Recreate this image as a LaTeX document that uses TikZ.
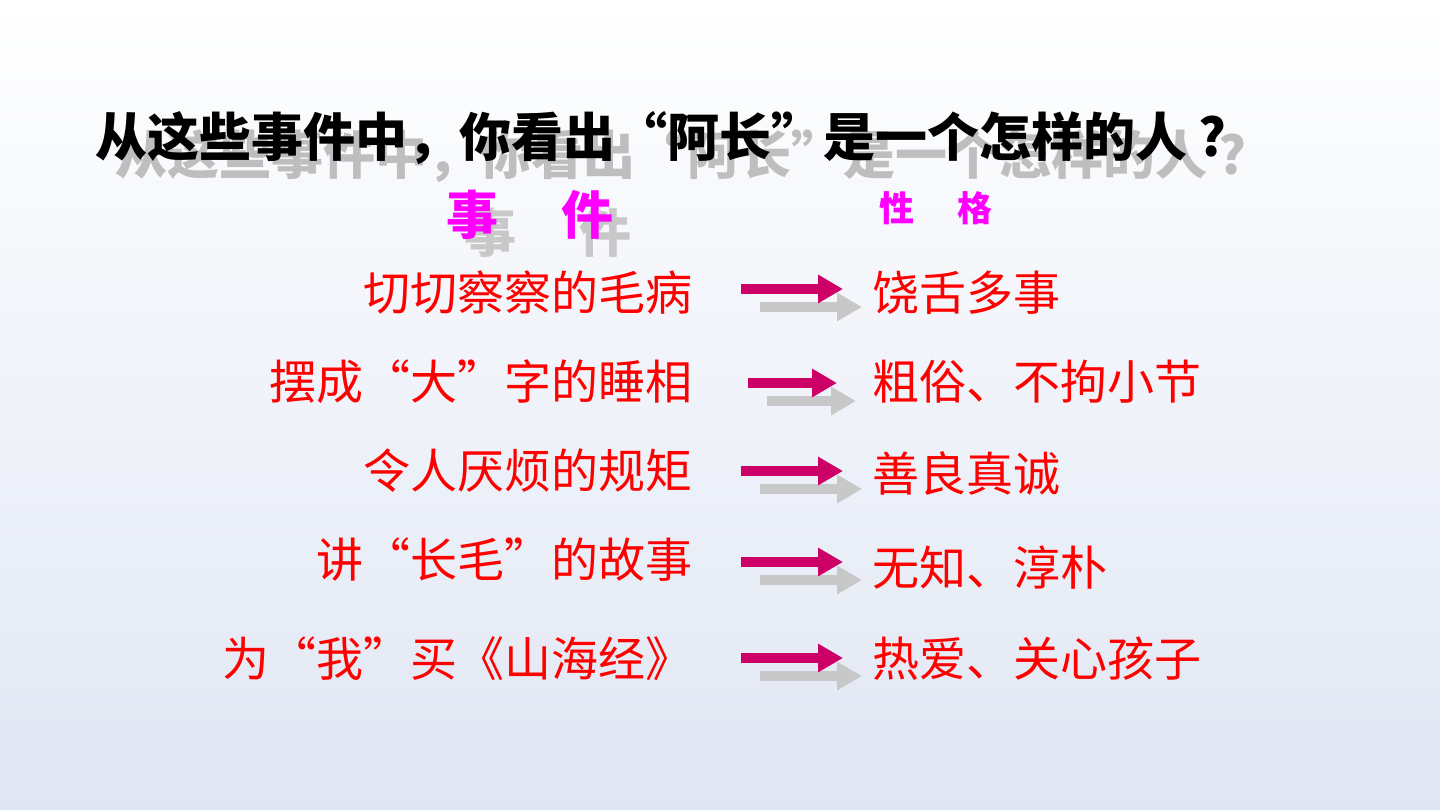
\documentclass[tikz,border=0pt]{standalone}
\usepackage{fontspec}
\newfontfamily\cjk{Noto Sans CJK SC}
\usetikzlibrary{arrows.meta}
\definecolor{arrowmag}{RGB}{204,0,102}
\definecolor{shadowgrey}{RGB}{200,200,200}
\definecolor{titlegrey}{RGB}{190,190,190}
\definecolor{bgbottom}{RGB}{224,230,243}
\definecolor{headmag}{RGB}{255,0,255}
\newcommand{\lqq}{\makebox[1em][r]{“}}
\newcommand{\rqq}{\makebox[1em][l]{”}}
\newcommand{\titletext}{从这些事件中，你看出\lqq 阿长\rqq 是一个怎样的人 ?}
\begin{document}
\begin{tikzpicture}[x=1pt,y=-1pt,
  every node/.style={inner sep=0pt, outer sep=0pt},
  titlestyle/.style={anchor=base west, font=\cjk\bfseries\fontsize{52}{56}\selectfont},
  headstyle/.style={anchor=base, font=\cjk\bfseries\fontsize{52}{56}\selectfont},
  subhead/.style={anchor=base, text=headmag, font=\cjk\bfseries\fontsize{35}{38}\selectfont},
  evt/.style={anchor=base east, text=red, font=\cjk\fontsize{47}{50}\selectfont},
  trait/.style={anchor=base west, text=red, font=\cjk\fontsize{47}{50}\selectfont},
  arr/.style={line width=9.5pt, line cap=butt, draw=arrowmag, -{Triangle[width=27pt,length=25pt]}},
  arrsh/.style={arr, draw=shadowgrey}]
\useasboundingbox (0,0) rectangle (1440,810);
\shade[top color=white, bottom color=bgbottom] (0,0) rectangle (1440,810);

% title with shadow
\node[titlestyle, text=titlegrey] (titleshadow) at (115,175) {\titletext};
\node[titlestyle, text=black] (title) at (95,157) {\titletext};

% column heads
\node[headstyle, text=shadowgrey] (evthead-s) at (548,253) {事\hspace{63pt}件};
\node[headstyle, text=headmag] (evthead) at (530,235) {事\hspace{63pt}件};
\node[subhead] (traithead) at (936,222) {性\hspace{43pt}格};

% events
\node[evt] (e1) at (692,310) {切切察察的毛病};
\node[evt] (e2) at (692,399) {摆成\lqq 大\rqq 字的睡相};
\node[evt] (e3) at (692,488) {令人厌烦的规矩};
\node[evt] (e4) at (692,577) {讲\lqq 长毛\rqq 的故事};
\node[evt] (e5) at (692,676) {为\lqq 我\rqq 买《山海经》};

% traits
\node[trait] (t1) at (872,310) {饶舌多事};
\node[trait] (t2) at (872,399) {粗俗、不拘小节};
\node[trait] (t3) at (872,491) {善良真诚};
\node[trait] (t4) at (872,585) {无知、淳朴};
\node[trait] (t5) at (872,676) {热爱、关心孩子};

% arrow coordinates
\coordinate (a1s) at (741,289); \coordinate (a1e) at (843,289);
\coordinate (a2s) at (748,383); \coordinate (a2e) at (837,383);
\coordinate (a3s) at (741,471); \coordinate (a3e) at (843,471);
\coordinate (a4s) at (741,562); \coordinate (a4e) at (843,562);
\coordinate (a5s) at (741,658); \coordinate (a5e) at (843,658);
\foreach \i in {1,...,5}{
  \draw[arrsh] ([shift={(19,18)}]a\i s) -- ([shift={(19,18)}]a\i e);
  \draw[arr] (a\i s) -- (a\i e);
}
\end{tikzpicture}
\end{document}
